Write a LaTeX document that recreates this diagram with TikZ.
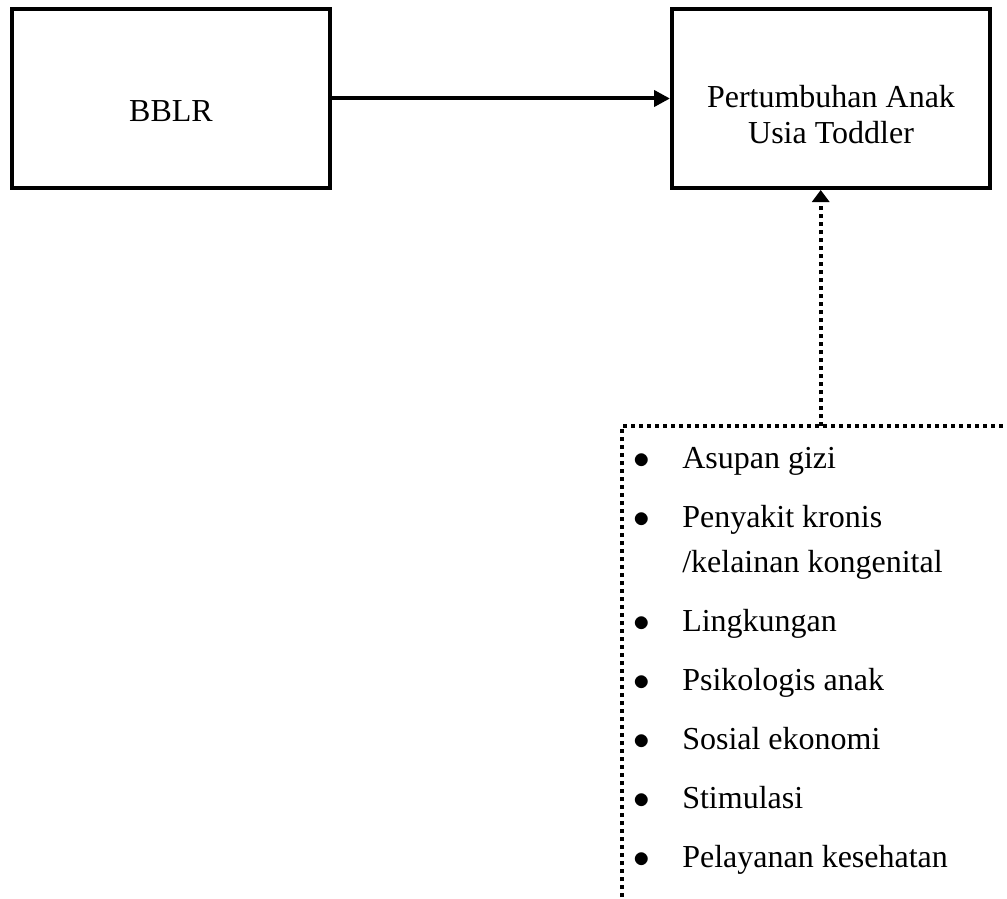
\documentclass[tikz,border=0pt]{standalone}
\usepackage{fontspec}
\setmainfont{Liberation Serif}
\usetikzlibrary{arrows.meta,positioning}
\tikzset{
  kotak/.style={draw, line width=3pt, minimum width=238.5pt, minimum height=134.25pt, inner sep=0pt},
  teks/.style={font=\fontsize{24}{27}\selectfont, inner sep=0pt},
  garis/.style={line width=3pt},
  titik/.style={line width=3pt, dash pattern=on 3pt off 3pt},
}
\begin{document}
\begin{tikzpicture}[x=0.75pt, y=-0.75pt]
  \useasboundingbox (0,0) rectangle (1007,899);
  \node[kotak] (bblr) at (171,98.5) {};
  \node[kotak] (tumbuh) at (831,98.5) {};
  \node[teks, anchor=base] (bblrteks) at (171,122) {BBLR};
  \node[teks, align=center] (tumbuhteks) at (831,115) {Pertumbuhan Anak\\Usia Toddler};
  \draw[garis, -{Triangle[length=12pt,width=12pt]}] (bblr) -- (tumbuh);
  % kotak faktor (bertitik)
  \coordinate (sudut) at (622,426);
  \coordinate (atas) at (820.7,426);
  \draw[titik] (622,905) -- (sudut) -- (1012,426);
  \draw[titik, -{Triangle[length=9pt,width=12.75pt]}] (atas) -- (atas |- tumbuh.south);
  \foreach \y/\b/\t [count=\i] in {468/$\bullet$/Asupan gizi, 527/$\bullet$/Penyakit kronis,
      572//{/kelainan kongenital}, 631/$\bullet$/Lingkungan, 690/$\bullet$/Psikologis anak,
      749/$\bullet$/Sosial ekonomi, 808/$\bullet$/Stimulasi, 867/$\bullet$/Pelayanan kesehatan}
    \node[teks, anchor=base west] (faktor\i) at (633,\y) {\makebox[36.75pt][l]{\b}\t};
\end{tikzpicture}
\end{document}
